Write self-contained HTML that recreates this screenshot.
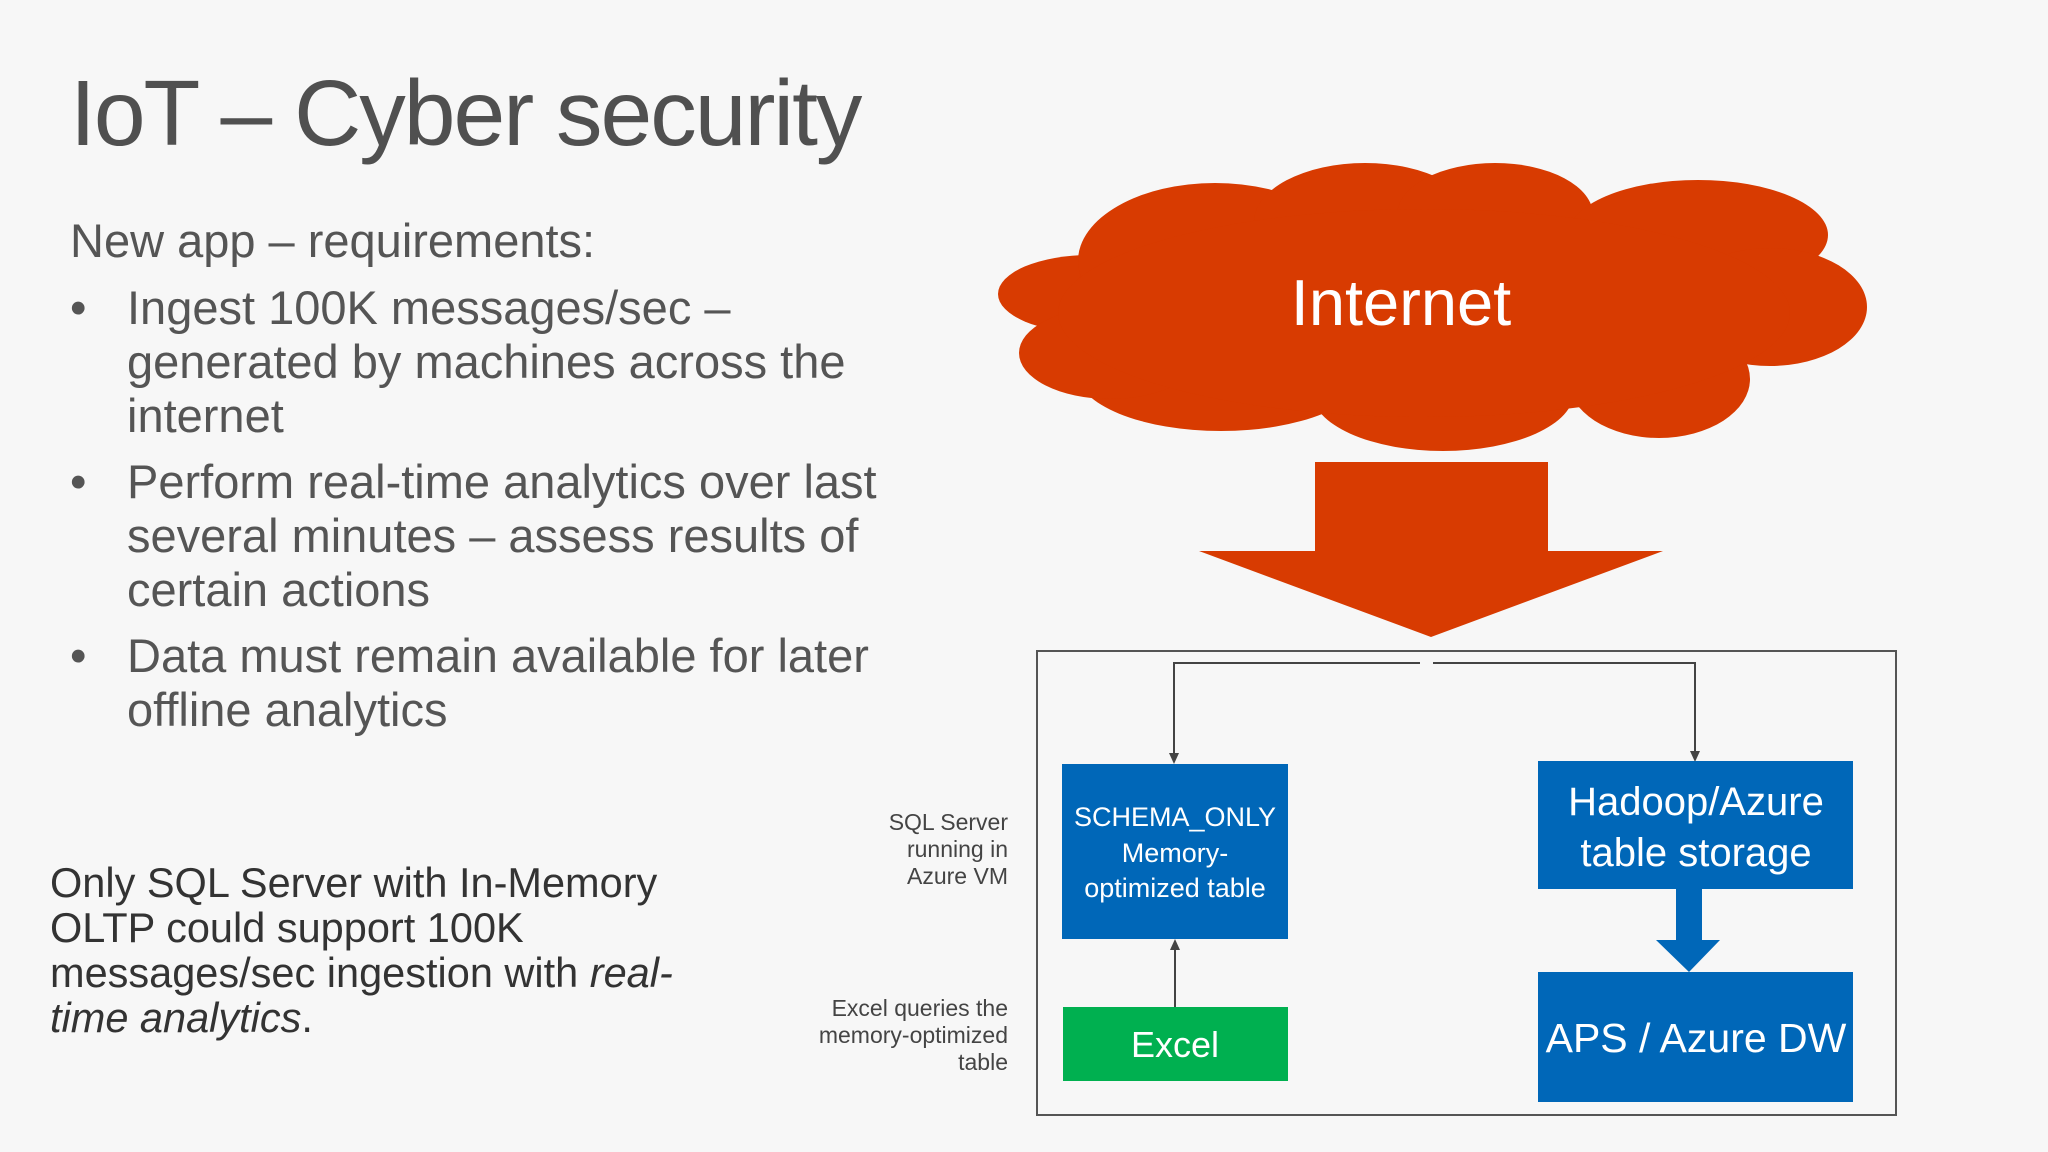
<!DOCTYPE html>
<html><head><meta charset="utf-8"><style>
html,body{margin:0;padding:0}
body{width:2048px;height:1152px;background:#f7f7f7;position:relative;overflow:hidden;font-family:"Liberation Sans",sans-serif;color:#4a4a4a}
.t{position:absolute;white-space:nowrap}
.b{position:absolute;font-size:47px;line-height:54px;font-weight:300;color:#555}
.lab{position:absolute;text-align:right;font-size:23px;line-height:27px;color:#444;right:1040px}
</style></head><body>
<div class="t" style="left:70px;top:60px;font-size:93px;color:#505050;font-weight:300;letter-spacing:-2px">IoT – Cyber security</div>
<div class="t" style="left:70px;top:213px;font-size:47px;color:#555">New app – requirements:</div>
<div class="b" style="left:70px;top:281px">•</div>
<div class="b" style="left:127px;top:281px">Ingest 100K messages/sec –<br>generated by machines across the<br>internet</div>
<div class="b" style="left:70px;top:455px">•</div>
<div class="b" style="left:127px;top:455px">Perform real-time analytics over last<br>several minutes – assess results of<br>certain actions</div>
<div class="b" style="left:70px;top:629px">•</div>
<div class="b" style="left:127px;top:629px">Data must remain available for later<br>offline analytics</div>
<div class="t" style="left:50px;top:860px;font-size:41.5px;line-height:45px;color:#333">Only SQL Server with In-Memory<br>OLTP could support 100K<br>messages/sec ingestion with <i>real-<br>time analytics</i>.</div>
<div class="lab" style="top:809px">SQL Server<br>running in<br>Azure VM</div>
<div class="lab" style="top:995px">Excel queries the<br>memory-optimized<br>table</div>
<svg width="2048" height="1152" style="position:absolute;left:0;top:0">
<g fill="#d83b01">
<ellipse cx="1090" cy="294" rx="92" ry="39"/>
<ellipse cx="1215" cy="261" rx="137" ry="78"/>
<ellipse cx="1365" cy="222" rx="111" ry="59"/>
<ellipse cx="1495" cy="215" rx="98" ry="52"/>
<ellipse cx="1698" cy="235" rx="130" ry="55"/>
<ellipse cx="1770" cy="307" rx="97" ry="59"/>
<ellipse cx="1659" cy="379" rx="91" ry="59"/>
<ellipse cx="1443" cy="392" rx="131" ry="59"/>
<ellipse cx="1221" cy="372" rx="144" ry="59"/>
<ellipse cx="1110" cy="353" rx="91" ry="46"/>
<ellipse cx="1424" cy="313" rx="366" ry="104"/>
<polygon points="1315,462 1548,462 1548,551 1663,551 1431,637 1199,551 1315,551"/>
</g>
<text x="1401" y="325" font-size="65" fill="#fff" text-anchor="middle" font-family="Liberation Sans">Internet</text>
<rect x="1037" y="651" width="859" height="464" fill="none" stroke="#555" stroke-width="2"/>
<polyline points="1420,663 1174,663 1174,757" fill="none" stroke="#444" stroke-width="2"/>
<polyline points="1433,663 1695,663 1695,755" fill="none" stroke="#444" stroke-width="2"/>
<polygon points="1169,753 1179,753 1174,764" fill="#444"/>
<polygon points="1690,751 1700,751 1695,762" fill="#444"/>
<rect x="1062" y="764" width="226" height="175" fill="#0067b8"/>
<rect x="1063" y="1007" width="225" height="74" fill="#00b050"/>
<line x1="1175" y1="1007" x2="1175" y2="946" stroke="#444" stroke-width="2"/>
<polygon points="1170,950 1180,950 1175,939" fill="#444"/>
<rect x="1538" y="761" width="315" height="128" fill="#0067b8"/>
<rect x="1538" y="972" width="315" height="130" fill="#0067b8"/>
<polygon points="1676,889 1702,889 1702,940 1720,940 1689,972 1656,940 1676,940" fill="#0067b8"/>
<g fill="#fff" font-family="Liberation Sans" text-anchor="middle">
<text x="1175" y="826" font-size="27">SCHEMA_ONLY</text>
<text x="1175" y="862" font-size="27">Memory-</text>
<text x="1175" y="897" font-size="27">optimized table</text>
<text x="1175" y="1057" font-size="36">Excel</text>
<text x="1696" y="815" font-size="40">Hadoop/Azure</text>
<text x="1696" y="866" font-size="40">table storage</text>
<text x="1696" y="1052" font-size="41">APS / Azure DW</text>
</g>
</svg>
</body></html>
